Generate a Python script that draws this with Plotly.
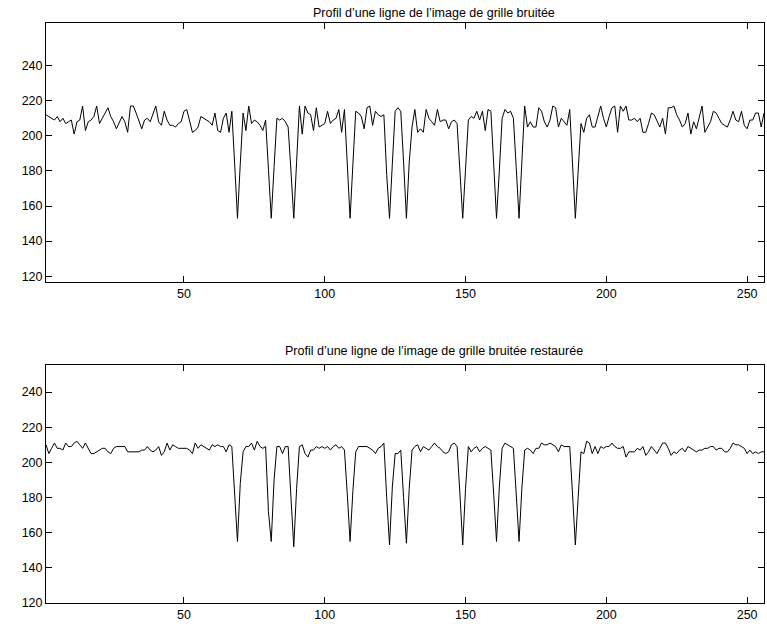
import plotly.graph_objects as go

# ---------------- data ----------------
x_index = list(range(1, 257))

profile_noisy = [
    212, 211, 210, 209, 211, 208, 210, 207, 208, 209,
    201, 208, 209, 217, 203, 208, 209, 211, 217, 207,
    210, 213, 216, 211, 208, 204, 208, 211, 208, 202,
    217, 217, 213, 209, 204, 209, 210, 208, 212, 217,
    208, 206, 214, 209, 206, 206, 205, 207, 208, 214,
    215, 209, 202, 203, 205, 211, 210, 209, 208, 206,
    213, 203, 202, 210, 213, 202, 214, 184, 153, 184,
    213, 203, 217, 207, 209, 208, 206, 203, 209, 181,
    153, 182, 210, 209, 210, 208, 205, 180, 153, 185,
    217, 201, 217, 213, 212, 203, 216, 205, 206, 207,
    214, 207, 209, 210, 215, 202, 215, 184, 153, 184,
    214, 213, 211, 204, 216, 217, 206, 214, 212, 211,
    212, 178, 153, 184, 214, 216, 214, 185, 153, 185,
    205, 215, 202, 204, 202, 215, 210, 208, 206, 215,
    208, 209, 209, 204, 208, 209, 207, 180, 153, 181,
    209, 211, 210, 214, 209, 214, 203, 215, 214, 184,
    153, 180, 210, 215, 213, 214, 210, 182, 153, 185,
    217, 205, 208, 205, 205, 216, 214, 208, 205, 209,
    217, 216, 205, 210, 208, 206, 215, 184, 153, 180,
    207, 202, 210, 212, 205, 205, 211, 217, 210, 205,
    211, 216, 217, 202, 217, 214, 217, 209, 209, 210,
    208, 210, 202, 202, 207, 213, 212, 208, 205, 210,
    201, 216, 216, 217, 212, 209, 205, 207, 213, 201,
    208, 204, 211, 217, 202, 205, 208, 214, 213, 210,
    207, 206, 205, 209, 214, 209, 208, 214, 206, 204,
    209, 209, 213, 213, 205, 213,
]

profile_restored = [
    210, 205, 208, 211, 208, 208, 207, 211, 209, 209,
    211, 212, 210, 208, 211, 208, 205, 205, 206, 207,
    208, 208, 206, 205, 208, 209, 209, 209, 209, 206,
    206, 206, 206, 206, 207, 207, 209, 207, 206, 207,
    209, 204, 206, 211, 207, 210, 209, 208, 208, 208,
    208, 207, 205, 211, 208, 210, 209, 208, 207, 210,
    209, 210, 209, 209, 206, 210, 209, 182, 155, 188,
    206, 209, 209, 211, 207, 212, 209, 208, 209, 172,
    155, 190, 209, 209, 205, 209, 209, 180, 152, 185,
    209, 210, 205, 203, 207, 207, 209, 208, 209, 208,
    209, 207, 209, 210, 208, 209, 207, 182, 155, 184,
    206, 209, 209, 209, 209, 208, 207, 205, 208, 209,
    211, 180, 153, 186, 205, 205, 207, 180, 154, 185,
    207, 209, 210, 206, 209, 208, 207, 209, 211, 209,
    208, 206, 205, 206, 210, 211, 209, 182, 153, 185,
    209, 206, 208, 209, 206, 208, 209, 208, 207, 182,
    155, 186, 208, 211, 210, 209, 208, 182, 155, 185,
    207, 208, 207, 205, 208, 208, 211, 210, 210, 211,
    210, 209, 206, 210, 209, 209, 209, 182, 153, 180,
    206, 205, 212, 211, 205, 209, 205, 209, 208, 209,
    209, 211, 209, 208, 208, 209, 203, 206, 206, 206,
    208, 207, 209, 204, 206, 209, 207, 205, 208, 211,
    211, 208, 204, 206, 205, 207, 208, 206, 209, 208,
    207, 206, 207, 207, 208, 208, 209, 209, 207, 208,
    208, 206, 206, 208, 211, 210, 210, 209, 208, 205,
    207, 205, 206, 205, 206, 206,
]

titles = [
    "Profil d’une ligne de l’image de grille bruitée",
    "Profil d’une ligne de l’image de grille bruitée restaurée",
]
x_ticks = [50, 100, 150, 200, 250]
y_ticks = [120, 140, 160, 180, 200, 220, 240]

# ---------------- layout geometry (screen pixels) ----------------
W, H = 767, 627
LEFT, RIGHT = 46, 764
TOP_BOX = (23, 282)
BOT_BOX = (365, 603)
TOP_RANGE = [116.7, 264.3]
BOT_RANGE = [120, 255.4]
TITLE_X = 434
TITLE_Y = [13, 351]

FONT = "Liberation Sans, Arial, Helvetica, sans-serif"
FS = 12.5


def px_x(p):
    return p / W


def px_y(p):
    return 1 - p / H


def ydom(box):
    return [px_y(box[1]), px_y(box[0])]


fig = go.Figure()
fig.add_trace(go.Scatter(x=x_index, y=profile_noisy, mode="lines",
                         line=dict(color="black", width=1),
                         xaxis="x", yaxis="y", showlegend=False))
fig.add_trace(go.Scatter(x=x_index, y=profile_restored, mode="lines",
                         line=dict(color="black", width=1),
                         xaxis="x2", yaxis="y2", showlegend=False))

axis_common = dict(showline=True, linecolor="black", linewidth=1, mirror="allticks",
                   ticks="inside", ticklen=6, tickcolor="black", tickwidth=1,
                   showgrid=False, zeroline=False, automargin=False,
                   tickfont=dict(family=FONT, size=FS, color="black"))

xdom = [px_x(LEFT), px_x(RIGHT)]
fig.update_layout(
    width=W, height=H, template="none",
    paper_bgcolor="white", plot_bgcolor="white",
    margin=dict(l=0, r=0, t=0, b=0),
    showlegend=False,
    xaxis=dict(domain=xdom, range=[1, 256], tickvals=x_ticks, anchor="y", **axis_common),
    yaxis=dict(domain=ydom(TOP_BOX), range=TOP_RANGE, tickvals=y_ticks, anchor="x", **axis_common),
    xaxis2=dict(domain=xdom, range=[1, 256], tickvals=x_ticks, anchor="y2", **axis_common),
    yaxis2=dict(domain=ydom(BOT_BOX), range=BOT_RANGE, tickvals=y_ticks, anchor="x2", **axis_common),
)

for title, ty in zip(titles, TITLE_Y):
    fig.add_annotation(text=title, xref="paper", yref="paper",
                       x=px_x(TITLE_X), y=px_y(ty),
                       xanchor="center", yanchor="middle", showarrow=False,
                       font=dict(family=FONT, size=FS, color="black"))

# remove the browser's default page margin so the figure fills the window exactly
fig.write_html("out.html", config={"displayModeBar": False, "staticPlot": True},
               post_script="document.body.style.margin='0px';")
